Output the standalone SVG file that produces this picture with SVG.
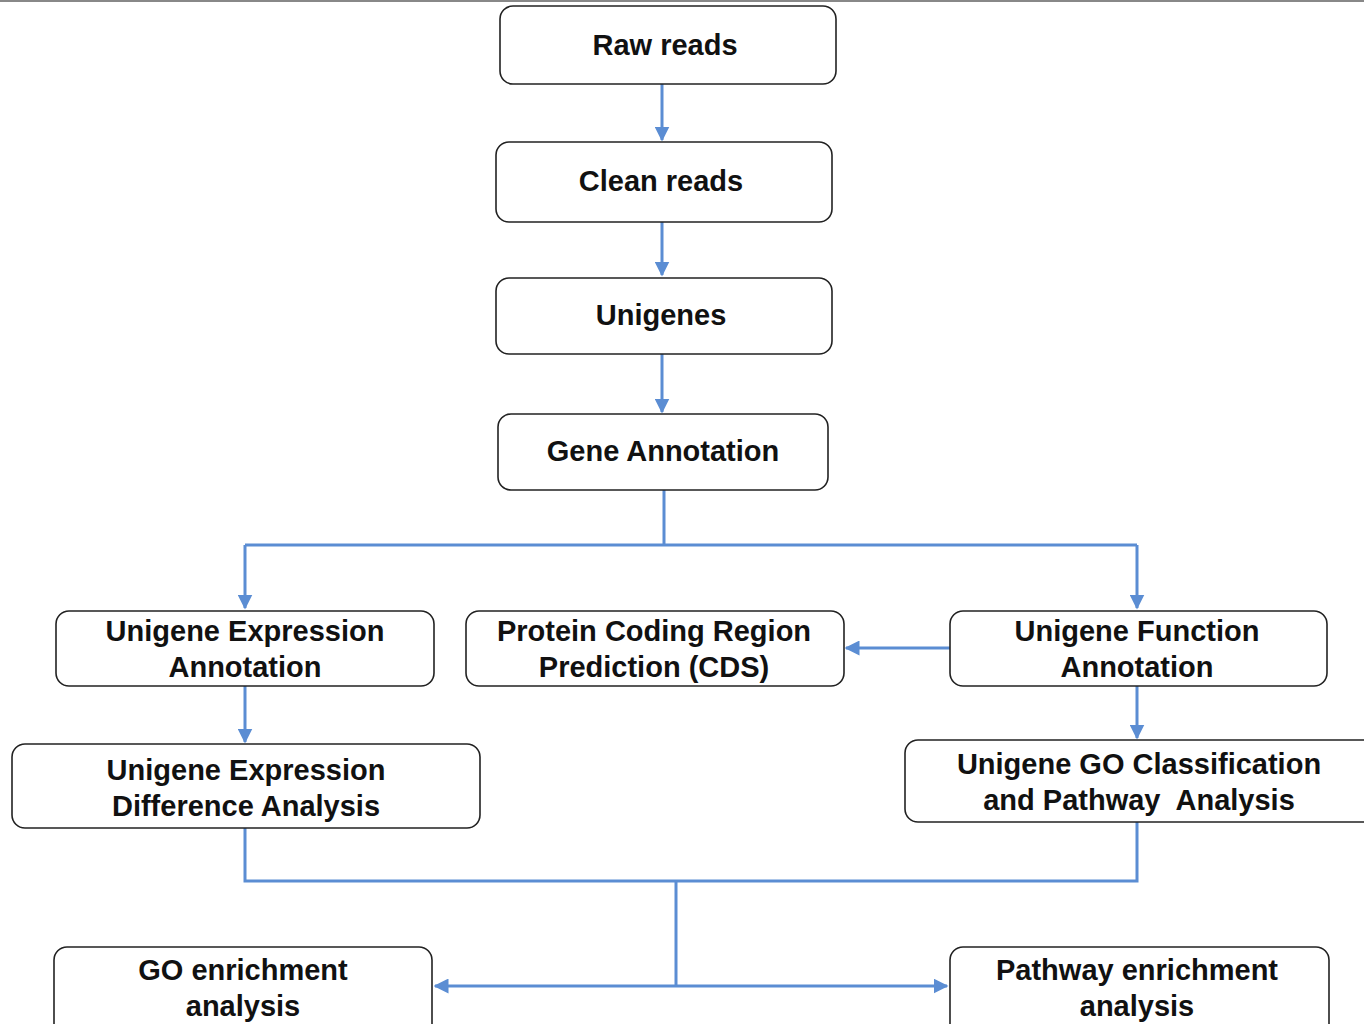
<svg xmlns="http://www.w3.org/2000/svg" width="1364" height="1024" viewBox="0 0 1364 1024">
<style>
.n{fill:#fff;stroke:#222;stroke-width:1.6}
.t{font-family:"Liberation Sans",Arial,sans-serif;font-weight:bold;font-size:29px;fill:#111;text-anchor:middle}
.c{fill:none;stroke:#5b8dd3;stroke-width:3}
</style>
<defs>
<marker id="a" viewBox="0 0 10 10" refX="9" refY="5" markerWidth="5" markerHeight="5" orient="auto" markerUnits="strokeWidth">
<path d="M0,0L10,5L0,10z" fill="#5b8dd3"/>
</marker>
</defs>
<rect width="1364" height="1024" fill="#fff"/>
<rect x="0" y="0" width="1364" height="2" fill="#888"/>
<g id="connectors">
<path class="c" d="M662,84V140" marker-end="url(#a)"/>
<path class="c" d="M662,222V275" marker-end="url(#a)"/>
<path class="c" d="M662,354V412" marker-end="url(#a)"/>
<path class="c" d="M664,490V545"/>
<path class="c" d="M245,545H1137"/>
<path class="c" d="M245,545V608" marker-end="url(#a)"/>
<path class="c" d="M1137,545V608" marker-end="url(#a)"/>
<path class="c" d="M950,648H846" marker-end="url(#a)"/>
<path class="c" d="M245,686V742" marker-end="url(#a)"/>
<path class="c" d="M1137,686V738" marker-end="url(#a)"/>
<path class="c" d="M245,828V881H1137V822"/>
<path class="c" d="M676,881V986"/>
<path class="c" d="M676,986H435" marker-end="url(#a)"/>
<path class="c" d="M676,986H947" marker-end="url(#a)"/>
</g>
<g id="raw-reads"><rect class="n" x="500" y="6" width="336" height="78" rx="13"/><text class="t" x="665" y="55">Raw reads</text></g>
<g id="clean-reads"><rect class="n" x="496" y="142" width="336" height="80" rx="13"/><text class="t" x="661" y="191">Clean reads</text></g>
<g id="unigenes"><rect class="n" x="496" y="278" width="336" height="76" rx="13"/><text class="t" x="661" y="325">Unigenes</text></g>
<g id="gene-annotation"><rect class="n" x="498" y="414" width="330" height="76" rx="13"/><text class="t" x="663" y="461">Gene Annotation</text></g>
<g id="expr-annotation"><rect class="n" x="56" y="611" width="378" height="75" rx="13"/><text class="t" x="245" y="641">Unigene Expression</text><text class="t" x="245" y="677">Annotation</text></g>
<g id="cds"><rect class="n" x="466" y="611" width="378" height="75" rx="13"/><text class="t" x="654" y="641">Protein Coding Region</text><text class="t" x="654" y="677">Prediction (CDS)</text></g>
<g id="func-annotation"><rect class="n" x="950" y="611" width="377" height="75" rx="13"/><text class="t" x="1137" y="641">Unigene Function</text><text class="t" x="1137" y="677">Annotation</text></g>
<g id="expr-diff"><rect class="n" x="12" y="744" width="468" height="84" rx="13"/><text class="t" x="246" y="780">Unigene Expression</text><text class="t" x="246" y="816">Difference Analysis</text></g>
<g id="go-class"><rect class="n" x="905" y="740" width="475" height="82" rx="13"/><text class="t" x="1139" y="774">Unigene GO Classification</text><text class="t" x="1139" y="810" style="white-space:pre">and Pathway  Analysis</text></g>
<g id="go-enrich"><rect class="n" x="54" y="947" width="378" height="90" rx="13"/><text class="t" x="243" y="980">GO enrichment</text><text class="t" x="243" y="1016">analysis</text></g>
<g id="pathway-enrich"><rect class="n" x="950" y="947" width="379" height="90" rx="13"/><text class="t" x="1137" y="980">Pathway enrichment</text><text class="t" x="1137" y="1016">analysis</text></g>
</svg>
